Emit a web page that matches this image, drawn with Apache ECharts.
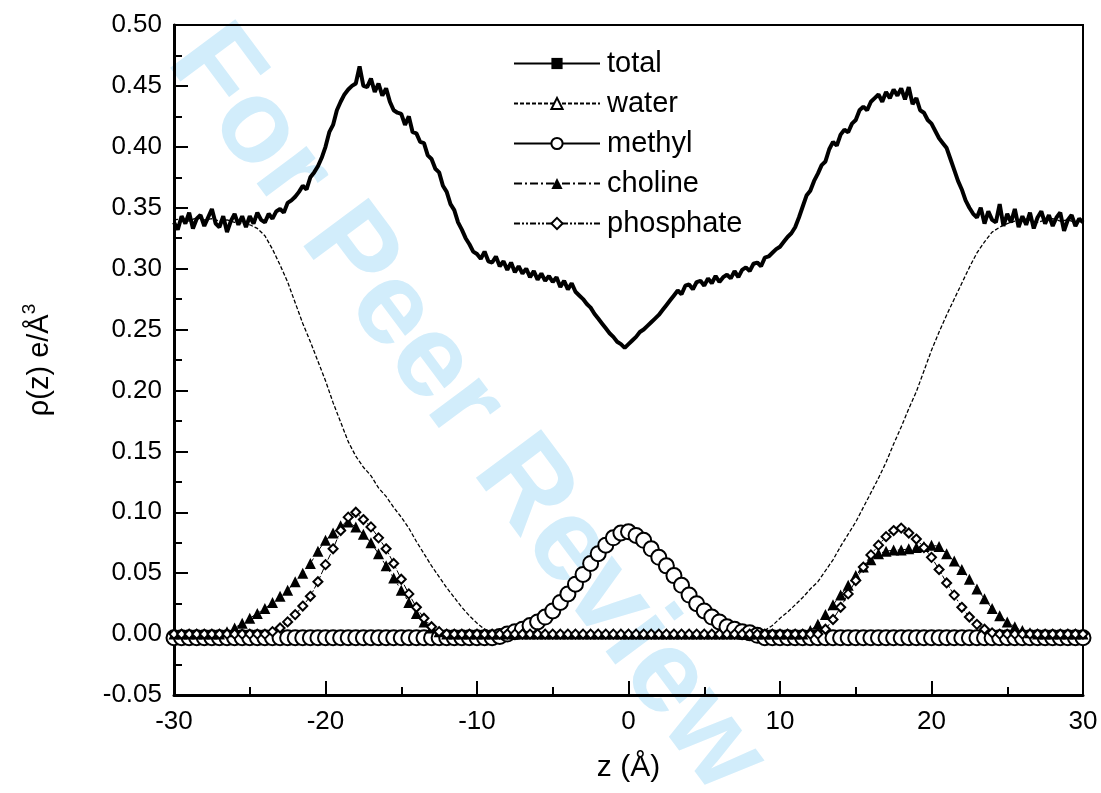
<!DOCTYPE html>
<html>
<head>
<meta charset="utf-8">
<script src="https://cdn.jsdelivr.net/npm/echarts@6/dist/echarts.min.js"></script>
<style>
html,body{margin:0;padding:0;background:#fff;}
#chart{width:1101px;height:793px;}
</style>
</head>
<body>
<div id="chart"></div>
<script>
// z grid (Å) shared by the component profiles, 0.5 Å steps
const zGrid = [
-30,-29.5,-29,-28.5,-28,-27.5,-27,-26.5,-26,-25.5,
-25,-24.5,-24,-23.5,-23,-22.5,-22,-21.5,-21,-20.5,
-20,-19.5,-19,-18.5,-18,-17.5,-17,-16.5,-16,-15.5,
-15,-14.5,-14,-13.5,-13,-12.5,-12,-11.5,-11,-10.5,
-10,-9.5,-9,-8.5,-8,-7.5,-7,-6.5,-6,-5.5,
-5,-4.5,-4,-3.5,-3,-2.5,-2,-1.5,-1,-0.5,
0,0.5,1,1.5,2,2.5,3,3.5,4,4.5,
5,5.5,6,6.5,7,7.5,8,8.5,9,9.5,
10,10.5,11,11.5,12,12.5,13,13.5,14,14.5,
15,15.5,16,16.5,17,17.5,18,18.5,19,19.5,
20,20.5,21,21.5,22,22.5,23,23.5,24,24.5,
25,25.5,26,26.5,27,27.5,28,28.5,29,29.5,
30];

// z grid for the total profile, 0.25 Å steps
const totalZ = [
-30,-29.75,-29.5,-29.25,-29,-28.75,-28.5,-28.25,-28,-27.75,-27.5,-27.25,-27,-26.75,-26.5,-26.25,-26,-25.75,-25.5,-25.25,
-25,-24.75,-24.5,-24.25,-24,-23.75,-23.5,-23.25,-23,-22.75,-22.5,-22.25,-22,-21.75,-21.5,-21.25,-21,-20.75,-20.5,-20.25,
-20,-19.75,-19.5,-19.25,-19,-18.75,-18.5,-18.25,-18,-17.75,-17.5,-17.25,-17,-16.75,-16.5,-16.25,-16,-15.75,-15.5,-15.25,
-15,-14.75,-14.5,-14.25,-14,-13.75,-13.5,-13.25,-13,-12.75,-12.5,-12.25,-12,-11.75,-11.5,-11.25,-11,-10.75,-10.5,-10.25,
-10,-9.75,-9.5,-9.25,-9,-8.75,-8.5,-8.25,-8,-7.75,-7.5,-7.25,-7,-6.75,-6.5,-6.25,-6,-5.75,-5.5,-5.25,
-5,-4.75,-4.5,-4.25,-4,-3.75,-3.5,-3.25,-3,-2.75,-2.5,-2.25,-2,-1.75,-1.5,-1.25,-1,-0.75,-0.5,-0.25,
0,0.25,0.5,0.75,1,1.25,1.5,1.75,2,2.25,2.5,2.75,3,3.25,3.5,3.75,4,4.25,4.5,4.75,
5,5.25,5.5,5.75,6,6.25,6.5,6.75,7,7.25,7.5,7.75,8,8.25,8.5,8.75,9,9.25,9.5,9.75,
10,10.25,10.5,10.75,11,11.25,11.5,11.75,12,12.25,12.5,12.75,13,13.25,13.5,13.75,14,14.25,14.5,14.75,
15,15.25,15.5,15.75,16,16.25,16.5,16.75,17,17.25,17.5,17.75,18,18.25,18.5,18.75,19,19.25,19.5,19.75,
20,20.25,20.5,20.75,21,21.25,21.5,21.75,22,22.25,22.5,22.75,23,23.25,23.5,23.75,24,24.25,24.5,24.75,
25,25.25,25.5,25.75,26,26.25,26.5,26.75,27,27.25,27.5,27.75,28,28.25,28.5,28.75,29,29.25,29.5,29.75,
30];

const totalVals = [
0.338,0.332,0.343,0.337,0.346,0.333,0.341,0.344,0.335,0.342,0.349,0.337,0.334,0.343,0.330,0.339,0.345,0.336,0.343,0.334,
0.343,0.337,0.346,0.340,0.338,0.345,0.341,0.347,0.349,0.346,0.354,0.356,0.359,0.363,0.368,0.365,0.375,0.379,0.384,0.391,
0.400,0.412,0.418,0.430,0.437,0.443,0.447,0.450,0.452,0.466,0.450,0.449,0.456,0.445,0.452,0.442,0.448,0.437,0.430,0.428,
0.427,0.418,0.425,0.412,0.411,0.404,0.403,0.393,0.390,0.382,0.379,0.368,0.363,0.353,0.348,0.338,0.332,0.325,0.320,0.314,
0.312,0.308,0.314,0.306,0.305,0.310,0.302,0.306,0.299,0.305,0.297,0.302,0.296,0.300,0.293,0.298,0.291,0.296,0.290,0.294,
0.289,0.293,0.285,0.290,0.283,0.288,0.281,0.278,0.275,0.271,0.268,0.263,0.259,0.255,0.251,0.247,0.244,0.240,0.238,0.235,
0.238,0.241,0.244,0.248,0.250,0.253,0.256,0.259,0.262,0.266,0.270,0.274,0.278,0.282,0.279,0.286,0.287,0.283,0.289,0.290,
0.286,0.292,0.288,0.294,0.289,0.293,0.295,0.292,0.298,0.293,0.299,0.301,0.298,0.304,0.305,0.302,0.309,0.310,0.313,0.316,
0.318,0.322,0.326,0.329,0.334,0.342,0.351,0.360,0.364,0.372,0.378,0.385,0.388,0.398,0.404,0.401,0.410,0.414,0.412,0.419,
0.422,0.430,0.433,0.430,0.437,0.440,0.443,0.437,0.445,0.440,0.447,0.442,0.448,0.439,0.449,0.435,0.440,0.430,0.428,0.422,
0.419,0.413,0.407,0.403,0.399,0.390,0.381,0.372,0.365,0.356,0.350,0.345,0.342,0.350,0.337,0.347,0.340,0.338,0.353,0.335,
0.345,0.338,0.349,0.334,0.343,0.336,0.346,0.333,0.342,0.347,0.337,0.344,0.335,0.342,0.346,0.331,0.340,0.344,0.335,0.341,
0.338];

const waterVals = [
0.340,0.341,0.339,0.342,0.340,0.341,0.339,0.340,0.338,0.337,
0.336,0.333,0.327,0.316,0.303,0.289,0.272,0.255,0.240,0.224,
0.208,0.190,0.174,0.158,0.146,0.137,0.130,0.120,0.113,0.104,
0.096,0.087,0.076,0.066,0.056,0.047,0.038,0.030,0.022,0.015,
0.009,0.004,0.002,0.001,0,0,0,0,0,0,
0,0,0,0,0,0,0,0,0,0,
0,0,0,0,0,0,0,0,0,0,
0,0,0,0,0,0,0,0.001,0.003,0.007,
0.013,0.018,0.024,0.030,0.037,0.043,0.052,0.061,0.072,0.082,
0.092,0.104,0.116,0.128,0.141,0.156,0.170,0.185,0.199,0.216,
0.233,0.248,0.262,0.275,0.288,0.301,0.313,0.322,0.330,0.334,
0.337,0.339,0.341,0.340,0.338,0.340,0.341,0.339,0.340,0.338,
0.340];

const methylVals = [
-0.003,-0.003,-0.003,-0.003,-0.003,-0.003,-0.003,-0.003,-0.003,-0.003,
-0.003,-0.003,-0.003,-0.003,-0.003,-0.003,-0.003,-0.003,-0.003,-0.003,
-0.003,-0.003,-0.003,-0.003,-0.003,-0.003,-0.003,-0.003,-0.003,-0.003,
-0.003,-0.003,-0.003,-0.003,-0.003,-0.003,-0.003,-0.003,-0.003,-0.003,
-0.003,-0.003,-0.003,-0.002,0.000,0.002,0.004,0.007,0.010,0.014,
0.019,0.026,0.033,0.041,0.049,0.058,0.066,0.073,0.079,0.083,
0.084,0.081,0.077,0.070,0.063,0.056,0.048,0.040,0.032,0.025,
0.019,0.014,0.010,0.006,0.004,0.002,0.001,-0.001,-0.003,-0.003,
-0.003,-0.003,-0.003,-0.003,-0.003,-0.003,-0.003,-0.003,-0.003,-0.003,
-0.003,-0.003,-0.003,-0.003,-0.003,-0.003,-0.003,-0.003,-0.003,-0.003,
-0.003,-0.003,-0.003,-0.003,-0.003,-0.003,-0.003,-0.003,-0.003,-0.003,
-0.003,-0.003,-0.003,-0.003,-0.003,-0.003,-0.003,-0.003,-0.003,-0.003,
-0.003];

const cholineVals = [
0,0,0,0,0,0,0,0.002,0.005,0.009,
0.013,0.017,0.021,0.026,0.031,0.036,0.043,0.050,0.058,0.068,
0.077,0.083,0.089,0.092,0.088,0.082,0.075,0.066,0.056,0.046,
0.036,0.026,0.017,0.010,0.005,0.002,0,0,0,0,
0,0,0,0,0,0,0,0,0,0,
0,0,0,0,0,0,0,0,0,0,
0,0,0,0,0,0,0,0,0,0,
0,0,0,0,0,0,0,0,0,0,
0,0,0,0,0.003,0.008,0.016,0.024,0.032,0.040,
0.048,0.055,0.061,0.066,0.068,0.069,0.069,0.070,0.071,0.072,
0.073,0.072,0.066,0.060,0.053,0.045,0.037,0.029,0.021,0.015,
0.010,0.006,0.003,0.001,0,0,0,0,0,0,
0];

const phosphateVals = [
0,0,0,0,0,0,0,0,0,0,
0,0,0,0.002,0.005,0.010,0.016,0.023,0.031,0.043,
0.057,0.070,0.085,0.096,0.100,0.094,0.088,0.079,0.070,0.058,
0.045,0.033,0.022,0.013,0.006,0.002,0,0,0,0,
0,0,0,0,0,0,0,0,0,0,
0,0,0,0,0,0,0,0,0,0,
0,0,0,0,0,0,0,0,0,0,
0,0,0,0,0,0,0,0,0,0,
0,0,0,0,0,0,0.004,0.012,0.022,0.033,
0.044,0.055,0.065,0.073,0.080,0.085,0.087,0.083,0.078,0.071,
0.063,0.053,0.042,0.032,0.022,0.014,0.008,0.004,0.001,0,
0,0,0,0,0,0,0,0,0,0,
0];

const xTicks = [-30, -20, -10, 0, 10, 20, 30];
const yTicks = ['-0.05','0.00','0.05','0.10','0.15','0.20','0.25','0.30','0.35','0.40','0.45','0.50'];

function pairs(zs, vals) { return zs.map((z, i) => [z, vals[i]]); }

const chart = echarts.init(document.getElementById('chart'), null, {renderer: 'canvas'});
const FONT = 'Liberation Sans, Arial, sans-serif';

chart.setOption({
  animation: false,
  backgroundColor: '#fff',
  color: ['#000'],
  graphic: [{
    type: 'text',
    z: -10,
    x: 466, y: 410,
    rotation: -0.93,
    style: {
      text: 'For Peer Review',
      font: 'bold 118px ' + FONT,
      fill: '#d2edfb',
      textAlign: 'center',
      textVerticalAlign: 'middle'
    }
  }],
  grid: {
    left: 174, right: 18, top: 25, bottom: 98,
    show: true, borderColor: '#000', borderWidth: 2, backgroundColor: 'transparent'
  },
  legend: {
    orient: 'vertical',
    left: 508, top: 44,
    itemWidth: 86, itemHeight: 14, itemGap: 11,
    textStyle: {fontSize: 29, color: '#000', fontFamily: FONT, padding: [0,0,0,2]},
    data: ['total', 'water', 'methyl', 'choline', 'phosphate']
  },
  xAxis: {
    type: 'value', min: -30, max: 30, interval: 10,
    name: 'z (Å)', nameLocation: 'middle', nameGap: 58,
    nameTextStyle: {fontSize: 30, color: '#000', fontFamily: FONT},
    axisLine: {show: true, onZero: false, lineStyle: {color: '#000', width: 3}},
    axisTick: {show: true, inside: true, length: 14, lineStyle: {color: '#000', width: 2}},
    minorTick: {show: true, splitNumber: 2, length: 8, lineStyle: {color: '#000', width: 2}},
    splitLine: {show: false},
    axisLabel: {fontSize: 26, color: '#000', fontFamily: FONT, margin: 14,
      formatter: v => xTicks.includes(v) ? String(v) : ''}
  },
  yAxis: {
    type: 'value', min: -0.05, max: 0.5, interval: 0.05,
    name: '{b|ρ(z) e/Å}{s|3}', nameLocation: 'middle', nameGap: 114,
    nameTextStyle: {color: '#000', fontFamily: FONT,
      rich: {
        b: {fontSize: 29, lineHeight: 40, color: '#000', fontFamily: FONT},
        s: {fontSize: 19, lineHeight: 20, color: '#000', fontFamily: FONT, verticalAlign: 'top'}
      }},
    axisLine: {show: true, onZero: false, lineStyle: {color: '#000', width: 3}},
    axisTick: {show: true, inside: true, length: 14, lineStyle: {color: '#000', width: 2}},
    minorTick: {show: true, splitNumber: 2, length: 8, lineStyle: {color: '#000', width: 2}},
    splitLine: {show: false},
    axisLabel: {fontSize: 26, color: '#000', fontFamily: FONT, margin: 12,
      formatter: v => { const s = v.toFixed(2); return yTicks.includes(s) ? s : ''; }}
  },
  series: [
    {
      name: 'methyl', type: 'line', data: pairs(zGrid, methylVals),
      symbol: 'emptyCircle', symbolSize: 15, showSymbol: true,
      lineStyle: {color: '#000', width: 1},
      itemStyle: {color: '#000', borderColor: '#000', borderWidth: 1.2},
      z: 3
    },
    {
      name: 'water', type: 'line', data: pairs(zGrid, waterVals),
      symbol: 'emptyTriangle', symbolSize: 6, showSymbol: false,
      lineStyle: {color: '#000', width: 1.3, type: [4, 2]},
      itemStyle: {color: '#000', borderColor: '#000', borderWidth: 0.8},
      z: 4
    },
    {
      name: 'choline', type: 'line', data: pairs(zGrid, cholineVals),
      symbol: 'triangle', symbolSize: 11, showSymbol: true,
      lineStyle: {color: '#000', width: 1, type: [8, 3, 2, 3]},
      itemStyle: {color: '#000'},
      z: 5
    },
    {
      name: 'phosphate', type: 'line', data: pairs(zGrid, phosphateVals),
      symbol: 'emptyDiamond', symbolSize: 9, showSymbol: true,
      lineStyle: {color: '#000', width: 1, type: [6, 2, 2, 2, 2, 2]},
      itemStyle: {color: '#000', borderColor: '#000', borderWidth: 1},
      z: 6
    },
    {
      name: 'total', type: 'line', data: pairs(totalZ, totalVals),
      symbol: 'rect', symbolSize: 7, showSymbol: false,
      lineStyle: {color: '#000', width: 4},
      itemStyle: {color: '#000'},
      z: 7
    }
  ]
});
</script>
</body>
</html>
